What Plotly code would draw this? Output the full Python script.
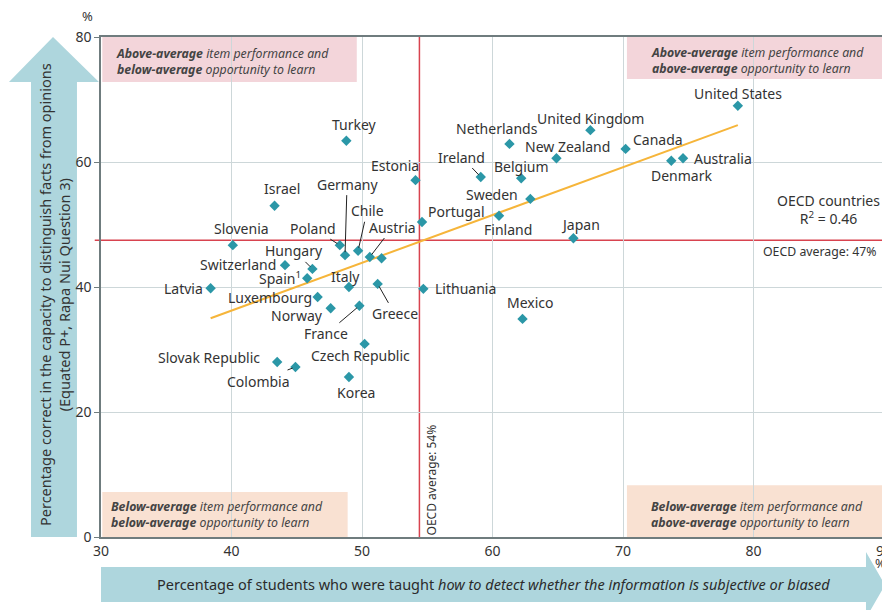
import plotly.graph_objects as go

# ---------------- data ----------------
countries = ["United States", "United Kingdom", "Netherlands", "New Zealand", "Canada",
             "Australia", "Denmark", "Ireland", "Belgium", "Sweden", "Finland", "Portugal",
             "Japan", "Estonia", "Turkey", "Israel", "Germany", "Poland", "Chile", "Austria",
             "", "Slovenia", "Hungary", "Switzerland", "Spain<sup>1</sup>", "Italy", "Greece",
             "Latvia", "Luxembourg", "Norway", "France", "Czech Republic", "Slovak Republic",
             "Colombia", "Korea", "Lithuania", "Mexico"]
x_taught = [78.8, 67.5, 61.3, 64.9, 70.2,
            74.6, 73.7, 59.1, 62.2, 62.9, 60.5, 54.6,
            66.2, 54.1, 48.8, 43.3, 48.7, 48.3, 49.7, 50.6,
            51.5, 40.1, 46.2, 44.1, 45.8, 49.0, 51.2,
            38.4, 46.6, 47.6, 49.8, 50.2, 43.5,
            44.9, 49.0, 54.7, 62.3]
y_correct = [69.0, 65.1, 62.9, 60.6, 62.1,
             60.6, 60.2, 57.6, 57.4, 54.1, 51.4, 50.4,
             47.8, 57.1, 63.4, 53.0, 45.1, 46.7, 45.8, 44.8,
             44.6, 46.7, 42.9, 43.5, 41.4, 40.0, 40.5,
             39.8, 38.4, 36.6, 37.0, 30.9, 28.0,
             27.2, 25.6, 39.7, 34.9]
trend_x = [38.4, 78.8]
trend_y = [35.0, 65.9]
oecd_avg_x = 54.4
oecd_avg_y = 47.5
r_squared = 0.46
x_ticks = [30, 40, 50, 60, 70, 80, 90]
y_ticks = [0, 20, 40, 60, 80]

# ---------------- label placement (pixels) ----------------
# plain labels: (xanchor, dx, dy) offset from marker, dy positive = downwards
plain = {
    "United States": ("center", 0, -12), "United Kingdom": ("center", 0, -12),
    "Netherlands": ("center", -12, -15), "New Zealand": ("center", 11, -12),
    "Canada": ("left", 5, -9), "Australia": ("left", 9, 0), "Denmark": ("center", 10, 15),
    "Belgium": ("center", 0, -12), "Sweden": ("right", -10, -4), "Finland": ("center", 9, 14),
    "Portugal": ("left", 4, -11), "Japan": ("center", 7, -14), "Estonia": ("center", -21, -15),
    "Turkey": ("center", 8, -16), "Israel": ("center", 7, -17), "Slovenia": ("center", 9, -17),
    "Switzerland": ("right", -7, -1), "Spain<sup>1</sup>": ("right", -4, 0),
    "Italy": ("center", -3, -11), "Latvia": ("right", -6, 0), "Luxembourg": ("right", -4, 0),
    "Norway": ("right", -6, 7), "Czech Republic": ("center", -4, 12),
    "Slovak Republic": ("right", -15, -5), "Korea": ("center", 7, 15),
    "Lithuania": ("left", 10, 0), "Mexico": ("center", 8, -16),
}
# leader-line labels: (ax, ay) text centre offset from marker
leader = {
    "Germany": (2, -71), "Poland": (-27, -17), "Chile": (9, -40), "Austria": (23, -30),
    "Hungary": (-18, -18), "Ireland": (-19, -20), "France": (-33, 28), "Greece": (17, 30),
    "Colombia": (-37, 14),
}

FONT = "Noto Sans, Open Sans, sans-serif"
TXT = "#333333"
TEAL = "#2b97a7"
RED = "#d8434f"
ORANGE = "#f6b53a"
ARROW = "#aed6dd"
GRID = "#cdd7d9"
BORDER = "#6f7c7e"

# plot area in screen pixels (the page body adds an 8 px offset)
OFF = 8
L, R, T, B = 101, 884, 37, 537
W, H = 890 - OFF, 610 - OFF


def px(xp):
    return (xp - L) / (R - L)


def py(yp):
    return (B - yp) / (B - T)


fig = go.Figure()

fig.add_trace(go.Scatter(x=trend_x, y=trend_y, mode="lines",
                         line=dict(color=ORANGE, width=2), hoverinfo="skip", showlegend=False))
fig.add_trace(go.Scatter(x=x_taught, y=y_correct, mode="markers", text=countries,
                         marker=dict(symbol="diamond", size=8, color=TEAL),
                         showlegend=False))

LBL = dict(family=FONT, size=14, color=TXT)
annotations = []
for name, xv, yv in zip(countries, x_taught, y_correct):
    if name in plain:
        anc, dx, dy = plain[name]
        annotations.append(dict(x=xv, y=yv, xref="x", yref="y", text=name, showarrow=False,
                                xanchor=anc, yanchor="middle", xshift=dx, yshift=-dy, font=LBL))
    elif name in leader:
        ax, ay = leader[name]
        annotations.append(dict(x=xv, y=yv, xref="x", yref="y", text=name, showarrow=True,
                                arrowhead=0, arrowwidth=1, arrowcolor="#222222",
                                ax=ax, ay=ay, standoff=3, font=LBL))

# quadrant boxes
boxes = [
    (30.1, 49.6, 72.8, 80, "#f3d5da",
     "<b><i>Above-average</i></b><i> item performance and</i><br><b><i>below-average</i></b><i> opportunity to learn</i>",
     114, 61),
    (70.3, 90, 73.3, 80, "#f3d5da",
     "<b><i>Above-average</i></b><i> item performance and</i><br><b><i>above-average</i></b><i> opportunity to learn</i>",
     649, 60),
    (30.1, 48.9, 0, 7.2, "#f9e1d2",
     "<b><i>Below-average</i></b><i> item performance and</i><br><b><i>below-average</i></b><i> opportunity to learn</i>",
     109, 514),
    (70.3, 90, 0, 8.3, "#f9e1d2",
     "<b><i>Below-average</i></b><i> item performance and</i><br><b><i>above-average</i></b><i> opportunity to learn</i>",
     649, 514),
]
shapes = []
for x0, x1, y0, y1, col, txt, tx, ty in boxes:
    shapes.append(dict(type="rect", xref="x", yref="y", x0=x0, x1=x1, y0=y0, y1=y1,
                       fillcolor=col, line=dict(width=0), layer="below"))
    annotations.append(dict(x=px(tx), y=py(ty), xref="paper", yref="paper", text=txt,
                            showarrow=False, xanchor="left", yanchor="middle", align="left",
                            font=dict(family=FONT, size=12.3, color="#444444")))

# OECD average lines
shapes.append(dict(type="line", xref="x", yref="paper", x0=oecd_avg_x, x1=oecd_avg_x, y0=0, y1=1,
                   line=dict(color=RED, width=1.5), layer="between"))
shapes.append(dict(type="line", xref="paper", yref="y", x0=-0.008, x1=1, y0=oecd_avg_y, y1=oecd_avg_y,
                   line=dict(color=RED, width=1.5), layer="between"))

# arrows
up_arrow = [(31, 537), (77, 537), (77, 82), (99, 82), (53, 37), (9, 82), (31, 82)]
right_arrow = [(101, 567), (866, 567), (866, 552), (885, 585), (866, 618), (866, 602), (101, 602)]
for pts in (up_arrow, right_arrow):
    path = "M " + " L ".join(f"{px(a):.4f},{py(b):.4f}" for a, b in pts) + " Z"
    shapes.append(dict(type="path", xref="paper", yref="paper", path=path,
                       fillcolor=ARROW, line=dict(width=0), layer="below"))

annotations += [
    dict(x=px(54), y=py(295), xref="paper", yref="paper", textangle=-90, showarrow=False,
         text="Percentage correct in the capacity to distinguish facts from opinions<br>(Equated P+, Rapa Nui Question 3)",
         font=dict(family=FONT, size=14.5, color=TXT), xanchor="center", yanchor="middle"),
    dict(x=px(493), y=py(584), xref="paper", yref="paper", showarrow=False,
         text="Percentage of students who were taught <i>how to detect whether the information is subjective or biased</i>",
         font=dict(family=FONT, size=14.5, color="#2b2b2b"), xanchor="center", yanchor="middle"),
    dict(x=px(87), y=py(16), xref="paper", yref="paper", text="%", showarrow=False,
         xanchor="center", yanchor="middle", font=dict(family=FONT, size=13, color=TXT)),
    dict(x=px(880), y=py(563), xref="paper", yref="paper", text="%", showarrow=False,
         xanchor="center", yanchor="middle", font=dict(family=FONT, size=13, color=TXT)),
    dict(x=oecd_avg_x, y=(B - 480) / 6.25, xref="x", yref="y", text="OECD average: 54%",
         textangle=-90, showarrow=False, xshift=12, xanchor="center", yanchor="middle",
         font=dict(family=FONT, size=12, color=TXT)),
    dict(x=px(878), y=py(251), xref="paper", yref="paper", text="OECD average: 47%",
         showarrow=False, xanchor="right", yanchor="middle",
         font=dict(family=FONT, size=12.3, color=TXT)),
    dict(x=px(828), y=py(209), xref="paper", yref="paper",
         text=f"OECD countries<br>R<sup>2</sup> = {r_squared:.2f}",
         showarrow=False, xanchor="center", yanchor="middle", align="center",
         font=dict(family=FONT, size=14, color=TXT)),
]

fig.update_layout(
    width=W, height=H,
    margin=dict(l=L - OFF, r=(W + OFF) - R, t=T - OFF, b=(H + OFF) - B, autoexpand=False),
    paper_bgcolor="white", plot_bgcolor="white",
    font=dict(family=FONT, size=14, color=TXT),
    shapes=shapes, annotations=annotations,
    xaxis=dict(range=[30, 90], tickvals=x_ticks, showgrid=True, gridcolor=GRID, gridwidth=1,
               zeroline=False, showline=True, linecolor=BORDER, linewidth=1.5, mirror=True,
               ticks="", ticklen=0, ticklabeloverflow="allow",
               tickfont=dict(size=14, color=TXT)),
    yaxis=dict(range=[0, 80], tickvals=y_ticks, showgrid=True, gridcolor=GRID, gridwidth=1,
               zeroline=False, showline=True, linecolor=BORDER, linewidth=1.5, mirror=True,
               ticks="outside", ticklen=5, tickcolor=BORDER, ticklabeloverflow="allow",
               tickfont=dict(size=14, color=TXT)),
    hovermode="closest",
)

fig.write_html("out.html")
